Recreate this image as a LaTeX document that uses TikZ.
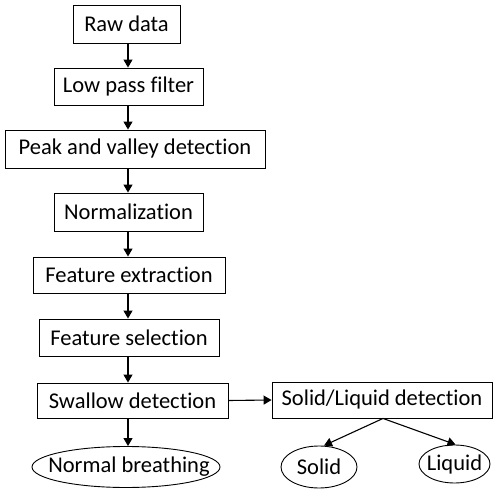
\documentclass[tikz,border=0pt]{standalone}
\usepackage{fontspec}
\setmainfont{Carlito}[Ligatures=NoCommon]
\usetikzlibrary{arrows.meta,shapes.geometric}
\begin{document}
\begin{tikzpicture}[x=1pt,y=-1pt,
  font=\fontsize{22.5}{26}\selectfont,
  box/.style={draw,line width=0.9pt,inner sep=0pt,anchor=center},
  oval/.style={draw,ellipse,line width=0.9pt,inner sep=0pt,anchor=center},
  arr/.style={line width=1.1pt,-{Triangle[length=8pt,width=9pt]}}]
\useasboundingbox (0,0) rectangle (493,489);
\coordinate (ax) at (128,0);
\node[box,minimum width=107pt,minimum height=38pt] (raw) at (126.5,24) {Raw data};
\node[box,minimum width=149pt,minimum height=37pt] (low) at (128.5,86.5) {Low pass filter};
\node[box,minimum width=260pt,minimum height=38pt] (peak) at (135,149) {Peak and valley detection};
\node[box,minimum width=149pt,minimum height=38pt] (norm) at (128.5,212) {Normalization};
\node[box,minimum width=192pt,minimum height=36pt] (fext) at (129,275) {Feature extraction};
\node[box,minimum width=180pt,minimum height=37pt] (fsel) at (129,337.5) {Feature selection};
\node[box,minimum width=191pt,minimum height=35pt] (swal) at (132.5,400.5) {Swallow detection};
\node[box,minimum width=220pt,minimum height=36pt] (sl) at (382,400) {Solid/Liquid detection};
\node[oval,minimum width=188pt,minimum height=41pt] (nb) at (126,467) {\makebox[0pt]{\hspace{6pt}Normal breathing}};
\node[oval,minimum width=76pt,minimum height=42pt] (solid) at (319,467) {\makebox[0pt]{\raisebox{-3pt}{Solid}}};
\node[oval,minimum width=71pt,minimum height=38pt] (liquid) at (454.5,464) {\makebox[0pt]{Liquid}};
\draw[arr] (raw.south -| ax) -- (low.north -| ax);
\draw[arr] (low.south -| ax) -- (peak.north -| ax);
\draw[arr] (peak.south -| ax) -- (norm.north -| ax);
\draw[arr] (norm.south -| ax) -- (fext.north -| ax);
\draw[arr] (fext.south -| ax) -- (fsel.north -| ax);
\draw[arr] (fsel.south -| ax) -- (swal.north -| ax);
\draw[arr] (swal.south -| ax) -- (nb.north -| ax);
\draw[arr] (swal.east) -- (sl.west);
\coordinate (slb) at ([xshift=1pt]sl.south);
\draw[arr] (slb) -- ([xshift=5pt]solid.north);
\draw[arr] (slb) -- ([xshift=1pt]liquid.north);
\end{tikzpicture}
\end{document}
